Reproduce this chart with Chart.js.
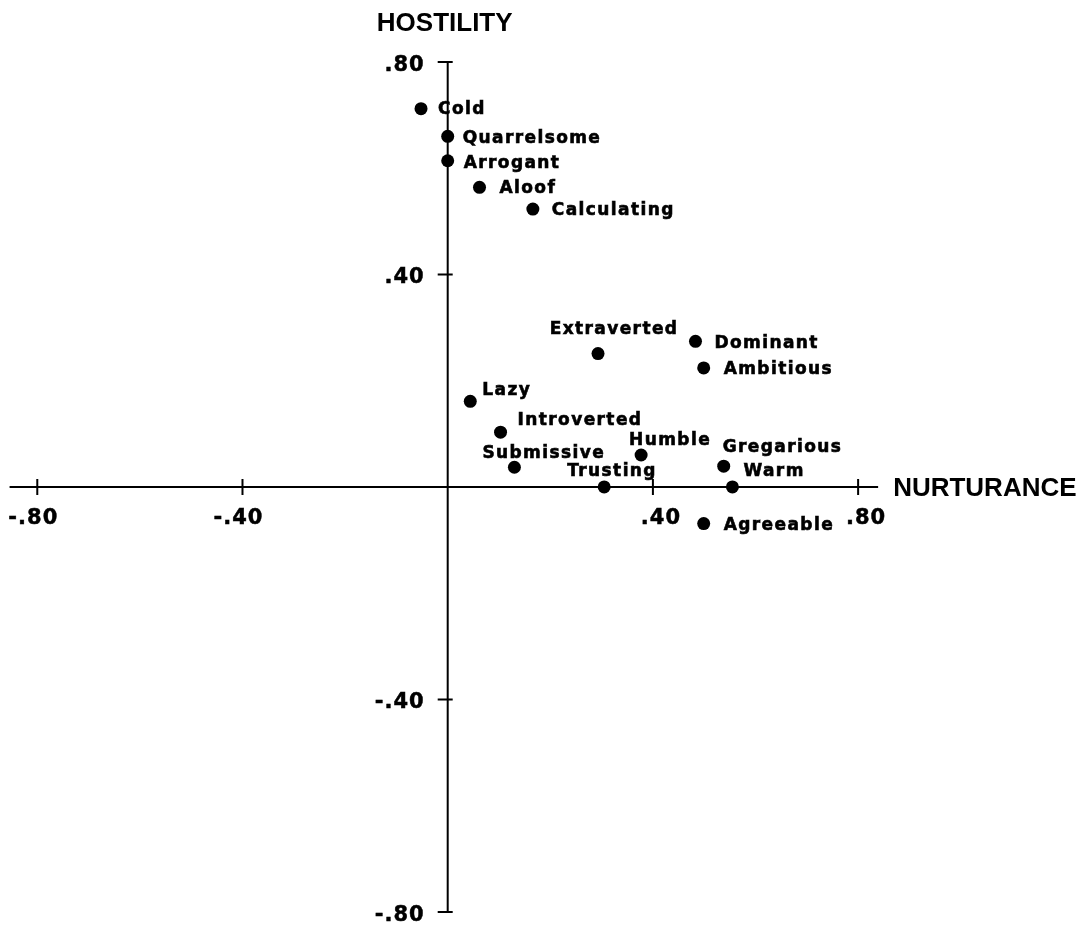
<!DOCTYPE html>
<html>
<head>
<meta charset="utf-8">
<script src="https://cdn.jsdelivr.net/npm/chart.js@4.4.1/dist/chart.umd.min.js"></script>
<style>
  html, body { margin: 0; padding: 0; background: #fff; overflow: hidden; }
  #wrap { width: 1079px; height: 929px; position: relative; }
</style>
</head>
<body>
<div id="wrap"><canvas id="circumplex"></canvas></div>
<script>
// データ (値は図から読み取り)
const traits = ['Cold', 'Quarrelsome', 'Arrogant', 'Aloof', 'Calculating',
  'Extraverted', 'Dominant', 'Ambitious', 'Lazy', 'Introverted',
  'Submissive', 'Humble', 'Trusting', 'Gregarious', 'Warm', 'Agreeable'];
const nurturance = [-0.052, 0.0, 0.0, 0.062, 0.166,
  0.293, 0.483, 0.499, 0.044, 0.103,
  0.130, 0.377, 0.305, 0.538, 0.555, 0.499];
const hostility = [0.712, 0.660, 0.614, 0.564, 0.523,
  0.251, 0.274, 0.224, 0.161, 0.103,
  0.037, 0.060, 0.0, 0.039, 0.0, -0.069];

const xTicks = [-0.8, -0.4, 0.4, 0.8];
const xTickLabels = ['-.80', '-.40', '.40', '.80'];
const yTicks = [0.8, 0.4, -0.4, -0.8];
const yTickLabels = ['.80', '.40', '-.40', '-.80'];
const xTitle = 'NURTURANCE';
const yTitle = 'HOSTILITY';

// 軸の範囲
const xMin = -0.86, xMax = 0.86;
const yMin = -0.82, yMax = 0.82;
const xLineFrom = -0.854, xLineTo = 0.839;

// ラベルの位置 (点の中心からのずれ: 左端x, 文字中心y)
const labelOffset = {
  Cold: [17, -1], Quarrelsome: [15, 1], Arrogant: [16, 1], Aloof: [20, 0],
  Calculating: [19, 0], Extraverted: ['c16', -26], Dominant: [19, 1],
  Ambitious: [20, 0], Lazy: [12, -12], Introverted: [17, -13],
  Submissive: [-32, -15], Humble: [-12, -16], Trusting: [-37, -17],
  Gregarious: [-1, -20], Warm: [11, -17], Agreeable: [20, 0]
};

const labelFont = 'bold 17px "DejaVu Sans"';
const tickFont = 'bold 21px "DejaVu Sans"';
const titleFont = 'bold 26px "Liberation Sans"';

function setSpacing(ctx, v) {
  if ('letterSpacing' in ctx) ctx.letterSpacing = v;
}

// 太めの文字 (原図の印刷に寄せる)
function heavyText(ctx, text, x, y) {
  ctx.fillText(text, x, y);
  ctx.strokeText(text, x, y);
}

const crossAxesPlugin = {
  id: 'crossAxes',
  beforeDatasetsDraw(chart) {
    const ctx = chart.ctx;
    const xs = chart.scales.x, ys = chart.scales.y;
    const x0 = xs.getPixelForValue(0), y0 = ys.getPixelForValue(0);
    ctx.save();
    ctx.strokeStyle = '#000';
    ctx.lineWidth = 2;
    ctx.beginPath();
    ctx.moveTo(xs.getPixelForValue(xLineFrom), y0);
    ctx.lineTo(xs.getPixelForValue(xLineTo), y0);
    ctx.moveTo(x0, ys.getPixelForValue(0.8));
    ctx.lineTo(x0, ys.getPixelForValue(-0.8));
    // 目盛り
    xTicks.forEach(v => {
      const px = xs.getPixelForValue(v);
      ctx.moveTo(px, y0 - 8);
      ctx.lineTo(px, y0 + 8);
    });
    yTicks.forEach(v => {
      const py = ys.getPixelForValue(v);
      ctx.moveTo(x0 - 10, py);
      ctx.lineTo(x0 + 5, py);
    });
    ctx.stroke();

    ctx.fillStyle = '#000';
    ctx.lineWidth = 0.5;
    ctx.font = tickFont;
    setSpacing(ctx, '1px');
    ctx.textBaseline = 'alphabetic';
    ctx.textAlign = 'center';
    xTicks.forEach((v, i) => {
      // 正の目盛りラベルは少し右寄り
      const shift = v > 0 ? 8 : -4;
      heavyText(ctx, xTickLabels[i], xs.getPixelForValue(v) + shift, y0 + 37);
    });
    ctx.textAlign = 'right';
    yTicks.forEach((v, i) => {
      heavyText(ctx, yTickLabels[i], x0 - 23, ys.getPixelForValue(v) + 9);
    });

    setSpacing(ctx, '0px');
    ctx.font = titleFont;
    ctx.textAlign = 'center';
    ctx.fillText(yTitle, x0 - 3, ys.getPixelForValue(0.8) - 31);
    ctx.textAlign = 'left';
    ctx.fillText(xTitle, xs.getPixelForValue(xLineTo) + 15, y0 + 9);
    ctx.restore();
  },
  afterDatasetsDraw(chart) {
    const ctx = chart.ctx;
    const meta = chart.getDatasetMeta(0);
    ctx.save();
    ctx.fillStyle = '#000';
    ctx.strokeStyle = '#000';
    ctx.lineWidth = 0.6;
    ctx.font = labelFont;
    setSpacing(ctx, '1.4px');
    ctx.textBaseline = 'alphabetic';
    ctx.textAlign = 'left';
    meta.data.forEach((pt, i) => {
      const name = traits[i];
      const off = labelOffset[name] || [16, 0];
      const w = ctx.measureText(name).width;
      let left;
      if (typeof off[0] === 'string') {
        left = pt.x + parseFloat(off[0].slice(1)) - w / 2;
      } else {
        left = pt.x + off[0];
      }
      heavyText(ctx, name, left, pt.y + off[1] + 6);
    });
    ctx.restore();
  }
};

const unitX = 515, originX = 446;
const unitY = 535, originY = 490;

new Chart(document.getElementById('circumplex'), {
  type: 'scatter',
  data: {
    datasets: [{
      data: traits.map((t, i) => ({ x: nurturance[i], y: hostility[i] })),
      backgroundColor: '#000',
      borderWidth: 0,
      pointRadius: 6.5,
      pointHoverRadius: 6.5
    }]
  },
  options: {
    responsive: true,
    maintainAspectRatio: false,
    animation: false,
    events: [],
    layout: {
      padding: {
        left: originX + xMin * unitX,
        right: 1079 - (originX + xMax * unitX),
        top: originY - yMax * unitY,
        bottom: 929 - (originY - yMin * unitY)
      }
    },
    plugins: {
      legend: { display: false },
      tooltip: { enabled: false }
    },
    scales: {
      x: { type: 'linear', min: xMin, max: xMax, display: false },
      y: { type: 'linear', min: yMin, max: yMax, display: false }
    }
  },
  plugins: [crossAxesPlugin]
});
</script>
</body>
</html>
